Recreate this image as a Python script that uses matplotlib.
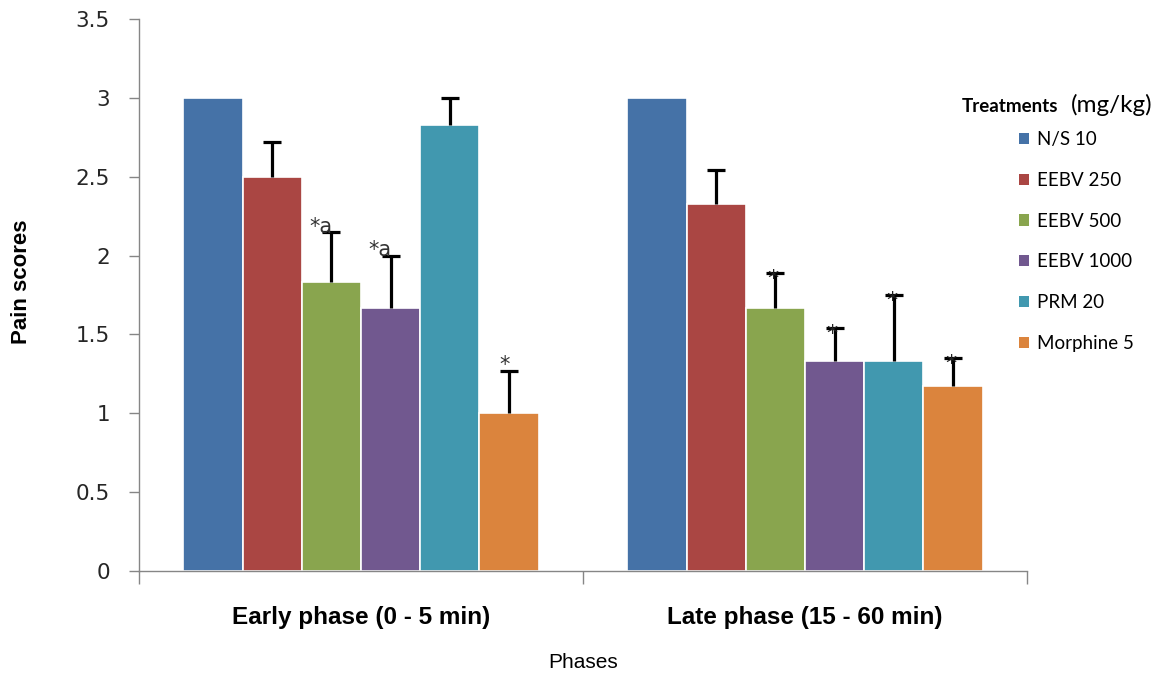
import numpy as np
import matplotlib
matplotlib.use("Agg")
import matplotlib.pyplot as plt
from matplotlib.patches import Patch
import warnings
warnings.filterwarnings("ignore")

# data
phases = ["Early phase (0 - 5 min)", "Late phase (15 - 60 min)"]
treatments = ["N/S 10", "EEBV 250", "EEBV 500", "EEBV 1000", "PRM 20", "Morphine 5"]
colors = ["#4572A7", "#AA4643", "#89A54E", "#71588F", "#4198AF", "#DB843D"]

early_mean = [3.0, 2.5, 1.83, 1.67, 2.83, 1.0]
late_mean = [3.0, 2.33, 1.67, 1.33, 1.33, 1.17]
early_err = [0.0, 0.22, 0.32, 0.33, 0.17, 0.27]
late_err = [0.0, 0.21, 0.22, 0.21, 0.42, 0.18]
early_marks = ["", "", "*a", "*a", "", "*"]
late_marks = ["", "", "*", "*", "*", "*"]

narrow = ["Liberation Sans Narrow", "Liberation Sans", "DejaVu Sans"]

fig = plt.figure(figsize=(11.67, 6.74), dpi=100)
ax = fig.add_axes([139 / 1167, 1 - 571 / 674, 888 / 1167, 552 / 674])

means = np.array([early_mean, late_mean])
errs = np.array([early_err, late_err])
marks = [early_marks, late_marks]
x = np.arange(len(phases))
w = 0.8 / len(treatments)

for i, t in enumerate(treatments):
    xi = x + (i - 2.5) * w
    ax.bar(xi, means[:, i], width=w, color=colors[i], edgecolor="white",
           linewidth=1.2, label=t, zorder=2)
    for g in range(len(phases)):
        e = errs[g, i]
        top = means[g, i] + e
        if e > 0:
            # upper-only error bar with a single cap
            ax.plot([xi[g], xi[g]], [means[g, i], top], color="black", lw=2.3,
                    solid_capstyle="butt", zorder=3)
            ax.plot(xi[g], top, marker="_", markersize=13, mew=2.3, color="black", zorder=3)
        m = marks[g][i]
        if m:
            if g == 0:
                ax.text(xi[g] + 0.002, top - 0.03, m, ha="right", va="bottom",
                        fontsize=15, color="#333333", zorder=4)
            else:
                ax.text(xi[g] - 0.005, top - 0.1, m, ha="center", va="bottom",
                        fontsize=16, color="#222222", zorder=4)

ax.set_xlim(-0.5, 1.5)
ax.set_ylim(0, 3.5)
ax.set_yticks(np.arange(0, 3.51, 0.5))
ax.set_yticklabels(["0", "0.5", "1", "1.5", "2", "2.5", "3", "3.5"],
                   fontsize=15.5, color="#262626", family="DejaVu Sans")
ax.tick_params(axis="y", direction="out", length=7, width=1, color="#868686", pad=14)

ax.set_xticks(x)
ax.set_xticklabels(phases, fontsize=17.5, fontweight="bold", family=narrow)
ax.set_xticks([-0.5, 0.5, 1.5], minor=True)
ax.tick_params(axis="x", which="major", length=0, pad=25)
ax.tick_params(axis="x", which="minor", direction="out", length=9, width=1, color="#868686")

for s in ["top", "right"]:
    ax.spines[s].set_visible(False)
for s in ["left", "bottom"]:
    ax.spines[s].set_color("#868686")
    ax.spines[s].set_linewidth(1)

fig.text(583 / 1167, 1 - 662 / 674, "Phases", ha="center", va="center",
         fontsize=15, family=narrow)
fig.text(22 / 1167, 1 - 282 / 674, "Pain scores", rotation=90, ha="center", va="center",
         fontsize=16, fontweight="bold", family=narrow)

# legend with split-font title
handles = [Patch(facecolor=c, edgecolor="none") for c in colors]
fig.legend(handles, treatments, loc="upper left",
           bbox_to_anchor=(1019 / 1167, 1 - 131 / 674), frameon=False,
           prop={"family": "Lato", "size": 13.5}, handlelength=0.55, handleheight=0.55,
           handletextpad=0.4, labelspacing=1.27, borderpad=0, borderaxespad=0)
fig.text(962 / 1167, 1 - 112 / 674, "Treatments", fontsize=13.5, fontweight="bold",
         family="Lato", ha="left", va="baseline")
fig.text(1071 / 1167, 1 - 112 / 674, "(mg/kg)", fontsize=17.5, family="Lato",
         ha="left", va="baseline")

plt.savefig("out.png", dpi=100)
plt.close()
